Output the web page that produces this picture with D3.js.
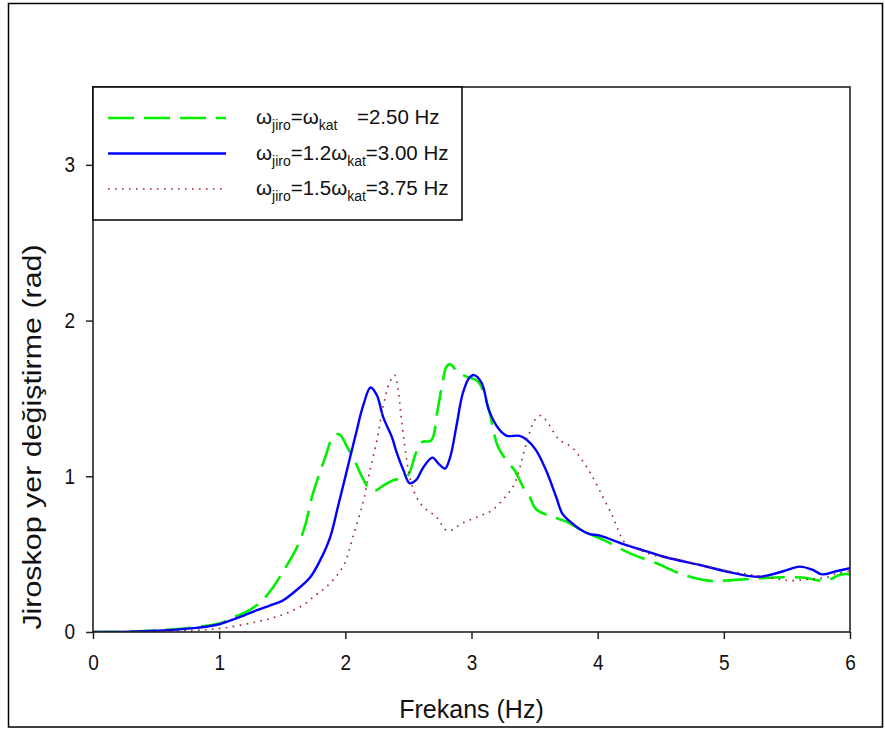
<!DOCTYPE html>
<html>
<head>
<meta charset="utf-8">
<script src="https://cdnjs.cloudflare.com/ajax/libs/d3/7.8.5/d3.min.js"></script>
<style>
body { margin: 0; background: #fff; }
text { font-family: 'Liberation Sans', Arial, sans-serif; fill: #111; }
</style>
</head>
<body>
<svg id="chart"></svg>
<script>
let width = 885
let height = 729
let plotLeft = 93
let plotRight = 850
let plotTop = 87
let plotBottom = 632

let xTicks = [0, 1, 2, 3, 4, 5, 6]
let yTicks = [0, 1, 2, 3]

// omega_jiro = omega_kat = 2.50 Hz
let freqGreen = [0, 0.3, 0.6, 0.8, 1.0, 1.13, 1.24, 1.35, 1.43, 1.5, 1.56, 1.62, 1.68, 1.74, 1.84, 1.9, 1.95, 2.02, 2.08, 2.13, 2.19, 2.23, 2.3, 2.38, 2.49, 2.56, 2.61, 2.68, 2.73, 2.77, 2.8, 2.83, 2.89, 2.96, 3.05, 3.13, 3.21, 3.28, 3.34, 3.41, 3.46, 3.51, 3.64, 3.75, 3.88, 4.05, 4.27, 4.47, 4.67, 4.88, 5.0, 5.2, 5.4, 5.62, 5.81, 5.93, 6.0]
let dispGreen = [0, 0.003, 0.015, 0.03, 0.055, 0.1, 0.14, 0.21, 0.29, 0.38, 0.46, 0.55, 0.68, 0.88, 1.12, 1.25, 1.27, 1.18, 1.09, 1.0, 0.92, 0.905, 0.94, 0.975, 1.0, 1.15, 1.22, 1.23, 1.42, 1.6, 1.7, 1.72, 1.67, 1.64, 1.61, 1.45, 1.19, 1.1, 1.04, 0.93, 0.87, 0.79, 0.74, 0.71, 0.65, 0.59, 0.5, 0.44, 0.37, 0.33, 0.33, 0.34, 0.35, 0.35, 0.33, 0.37, 0.37]

// omega_jiro = 1.2 omega_kat = 3.00 Hz
let freqBlue = [0, 0.3, 0.5, 0.8, 1.0, 1.16, 1.3, 1.4, 1.5, 1.6, 1.72, 1.8, 1.88, 1.94, 2.01, 2.08, 2.14, 2.2, 2.25, 2.3, 2.37, 2.4, 2.46, 2.51, 2.56, 2.62, 2.69, 2.74, 2.79, 2.83, 2.88, 2.93, 2.98, 3.02, 3.08, 3.14, 3.22, 3.28, 3.38, 3.43, 3.51, 3.59, 3.67, 3.72, 3.78, 3.86, 3.93, 4.01, 4.22, 4.38, 4.54, 4.81, 5.07, 5.28, 5.47, 5.6, 5.7, 5.78, 5.89, 6.0]
let dispBlue = [0, 0.002, 0.008, 0.025, 0.05, 0.095, 0.14, 0.17, 0.2, 0.26, 0.35, 0.46, 0.61, 0.8, 1.03, 1.26, 1.45, 1.57, 1.52, 1.38, 1.25, 1.17, 1.04, 0.955, 0.975, 1.06, 1.12, 1.08, 1.05, 1.12, 1.32, 1.53, 1.63, 1.65, 1.6, 1.42, 1.3, 1.26, 1.26, 1.24, 1.17, 1.04, 0.87, 0.76, 0.71, 0.66, 0.63, 0.62, 0.56, 0.52, 0.48, 0.43, 0.38, 0.355, 0.39, 0.42, 0.4, 0.37, 0.39, 0.41]

// omega_jiro = 1.5 omega_kat = 3.75 Hz
let freqRed = [0, 0.5, 0.8, 1.03, 1.3, 1.5, 1.66, 1.77, 1.85, 1.94, 2.0, 2.06, 2.14, 2.19, 2.25, 2.3, 2.35, 2.39, 2.42, 2.44, 2.47, 2.5, 2.54, 2.61, 2.72, 2.81, 2.93, 3.05, 3.16, 3.26, 3.34, 3.42, 3.46, 3.5, 3.55, 3.6, 3.67, 3.72, 3.79, 3.87, 3.95, 4.04, 4.12, 4.17, 4.21, 4.32, 4.46, 4.67, 4.86, 5.04, 5.2, 5.36, 5.52, 5.68, 5.81, 5.91, 6.0]
let dispRed = [0, 0.002, 0.01, 0.025, 0.066, 0.11, 0.17, 0.24, 0.29, 0.37, 0.45, 0.61, 0.83, 1.02, 1.23, 1.45, 1.6, 1.65, 1.55, 1.4, 1.2, 1.04, 0.91, 0.81, 0.74, 0.65, 0.7, 0.74, 0.78, 0.86, 0.95, 1.17, 1.28, 1.36, 1.39, 1.35, 1.26, 1.22, 1.19, 1.11, 1.01, 0.87, 0.74, 0.64, 0.58, 0.53, 0.49, 0.46, 0.42, 0.39, 0.37, 0.35, 0.33, 0.34, 0.35, 0.38, 0.39]

let series = [
    {freq: freqGreen, disp: dispGreen, color: '#00f000', width: 2.6, dash: '26,10'},
    {freq: freqBlue, disp: dispBlue, color: '#0000ff', width: 2.4, dash: null},
    {freq: freqRed, disp: dispRed, color: '#9b2525', width: 1.6, dash: '1.6,5.4'}
]

let legendRows = [
    [['ω'], ['jiro', 'sub'], ['=ω'], ['kat', 'sub'], ['=2.50 Hz', 'gap']],
    [['ω'], ['jiro', 'sub'], ['=1.2ω'], ['kat', 'sub'], ['=3.00 Hz']],
    [['ω'], ['jiro', 'sub'], ['=1.5ω'], ['kat', 'sub'], ['=3.75 Hz']]
]

let svg = d3.select('#chart')
    .attr('width', width)
    .attr('height', height)

let xScale = d3.scaleLinear().domain([0, 6]).range([plotLeft, plotRight])
let yScale = d3.scaleLinear().domain([0, 3.5]).range([plotBottom, plotTop])

// outer frame
svg.append('rect')
    .attr('x', 8.5).attr('y', 3.5)
    .attr('width', 874).attr('height', 723.5)
    .attr('fill', 'none').attr('stroke', '#000').attr('stroke-width', 1.5)

svg.append('defs').append('clipPath').attr('id', 'plot-clip')
    .append('rect')
    .attr('x', plotLeft).attr('y', plotTop)
    .attr('width', plotRight - plotLeft).attr('height', plotBottom - plotTop)

let lines = svg.append('g').attr('clip-path', 'url(#plot-clip)')

series.forEach((s) => {
    let line = d3.line()
        .x((i) => xScale(s.freq[i]))
        .y((i) => yScale(s.disp[i]))
        .curve(d3.curveCatmullRom.alpha(0.5))
    lines.append('path')
        .attr('d', line(d3.range(s.freq.length)))
        .attr('fill', 'none')
        .attr('stroke', s.color)
        .attr('stroke-width', s.width)
        .attr('stroke-dasharray', s.dash)
})

// axes
let xAxis = d3.axisBottom(xScale).tickValues(xTicks).tickSize(7).tickPadding(16).tickFormat(d3.format('d'))
let yAxis = d3.axisLeft(yScale).tickValues(yTicks).tickSize(7).tickPadding(11).tickFormat(d3.format('d'))

svg.append('g')
    .attr('transform', 'translate(0,' + plotBottom + ')')
    .call(xAxis)
svg.append('g')
    .attr('transform', 'translate(' + plotLeft + ',0)')
    .call(yAxis)

svg.selectAll('.domain').remove()
svg.selectAll('.tick line').attr('stroke', '#222').attr('stroke-width', 1.5)
svg.selectAll('.tick text')
    .style('font-family', "'Liberation Sans', Arial, sans-serif")
    .style('font-size', '19px')
    .attr('fill', '#111')
    .each(function () {
        // digits in the picture are a little taller than wide
        let t = d3.select(this)
        let x = +t.attr('x') || 0
        let y = +t.attr('y') || 0
        t.attr('x', 0).attr('y', 0)
            .attr('transform', 'translate(' + x + ',' + y + ') scale(1,1.12)')
    })

svg.append('rect')
    .attr('x', plotLeft).attr('y', plotTop)
    .attr('width', plotRight - plotLeft).attr('height', plotBottom - plotTop)
    .attr('fill', 'none').attr('stroke', '#222').attr('stroke-width', 1.6)

svg.append('text')
    .attr('x', (plotLeft + plotRight) / 2)
    .attr('y', 718)
    .attr('text-anchor', 'middle')
    .style('font-size', '25px')
    .text('Frekans (Hz)')

svg.append('text')
    .attr('transform', 'translate(41,437) scale(1,1.17) rotate(-90)')
    .attr('text-anchor', 'middle')
    .style('font-size', '26px')
    .text('Jiroskop yer değiştirme (rad)')

// legend
let legend = svg.append('g')
legend.append('rect')
    .attr('x', plotLeft).attr('y', plotTop)
    .attr('width', 369).attr('height', 133)
    .attr('fill', '#fff').attr('stroke', '#000').attr('stroke-width', 1.5)

series.forEach((s, i) => {
    let y = 118 + i * 35.5
    legend.append('line')
        .attr('x1', 108).attr('x2', 226)
        .attr('y1', y).attr('y2', y)
        .attr('stroke', s.color)
        .attr('stroke-width', s.width)
        .attr('stroke-dasharray', s.dash)

    let t = legend.append('text')
        .attr('x', 256)
        .attr('y', y + 6)
        .style('font-size', '20.5px')
    let shift = 0
    legendRows[i].forEach((part) => {
        let span = t.append('tspan').text(part[0])
        if (part[1] === 'sub') {
            span.attr('dy', 6 - shift).style('font-size', '14px')
            shift = 6
        } else {
            span.attr('dy', -shift)
            shift = 0
        }
        if (part[1] === 'gap') span.attr('x', 357)
    })
})
</script>
</body>
</html>
